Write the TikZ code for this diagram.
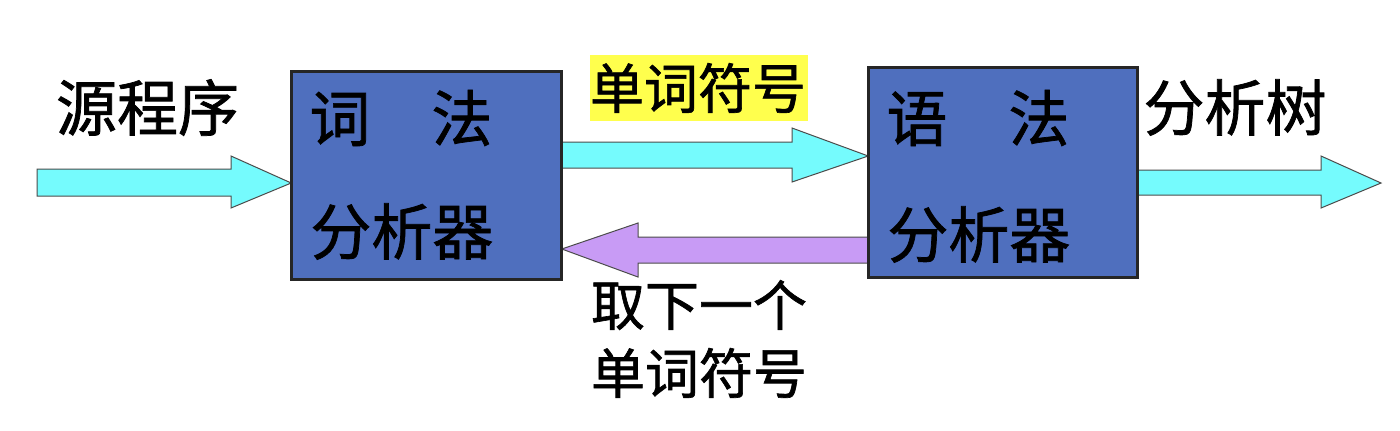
\documentclass[tikz,border=0pt]{standalone}
\usepackage{fontspec}
\newfontfamily\cjk[FakeBold=1.2]{Noto Sans CJK SC}
\usetikzlibrary{calc}
\definecolor{boxblue}{HTML}{4F6FBE}
\definecolor{arrcyan}{HTML}{75FBFD}
\definecolor{arrpurple}{HTML}{C89BF5}
\definecolor{hlyellow}{HTML}{FFFF4D}
\tikzset{
  procbox/.style={draw=black!85, line width=0.8pt, fill=boxblue, inner sep=0pt},
  lbl/.style={inner sep=0pt, font=\cjk\fontsize{30.5}{34}\selectfont, text=black},
  smalllbl/.style={inner sep=0pt, font=\cjk\fontsize{27}{34}\selectfont, text=black},
  cyanarrow/.style={draw=black!70, line width=0.5pt, fill=arrcyan, line join=miter},
  purplearrow/.style={draw=black!70, line width=0.5pt, fill=arrpurple, line join=miter}
}
\begin{document}
\begin{tikzpicture}[x=0.5pt, y=-0.5pt]
\useasboundingbox (0,0) rectangle (1400,430);
\fill[white] (0,0) rectangle (1400,430);
% boxes
\node[procbox, minimum width=134.5pt, minimum height=103.5pt] (lex) at (426.5,175.5) {};
\node[procbox, minimum width=134pt, minimum height=104.5pt] (syn) at (1003,172.5) {};
% free ends
\coordinate (src) at (37,182.5);
\coordinate (out) at (1381,183);
% input arrow
\draw[cyanarrow] (src |- 0,169) -- (231,169) -- (231,156) -- (lex.west |- 0,183) -- (231,208) -- (231,196) -- (src |- 0,196) -- cycle;
% top arrow lex -> syn
\draw[cyanarrow] (lex.east |- 0,142) -- (792,142) -- (792,128) -- (syn.west |- 0,156) -- (792,182) -- (792,168) -- (lex.east |- 0,168) -- cycle;
% purple arrow syn -> lex
\draw[purplearrow] (syn.west |- 0,237) -- (638,237) -- (638,223) -- (lex.east |- 0,249) -- (638,277) -- (638,263) -- (syn.west |- 0,263) -- cycle;
% output arrow
\draw[cyanarrow] (syn.east |- 0,170) -- (1321,170) -- (1321,156) -- (out) -- (1321,208) -- (1321,195) -- (syn.east |- 0,195) -- cycle;
% redraw box borders on top
\draw[draw=black!85, line width=0.8pt] (lex.north west) rectangle (lex.south east);
\draw[draw=black!85, line width=0.8pt] (syn.north west) rectangle (syn.south east);
% box texts
\node[lbl, anchor=west] (lex1) at (309,118) {词　法};
\node[lbl, anchor=west] (lex2) at (310,231.5) {分析器};
\node[lbl, anchor=west] (syn1) at (886,118) {语　法};
\node[lbl, anchor=west] (syn2) at (887,234.5) {分析器};
% labels
\node[lbl] (srclbl) at (147.5,107.5) {源程序};
\fill[hlyellow] (590,55) rectangle (808,121);
\node[smalllbl] (toklbl) at (698,88) {单词符号};
\node[lbl] (treelbl) at (1235,107.5) {分析树};
\node[smalllbl, align=center] (nextlbl) at (699,339) {取下一个\\单词符号};
\end{tikzpicture}
\end{document}
